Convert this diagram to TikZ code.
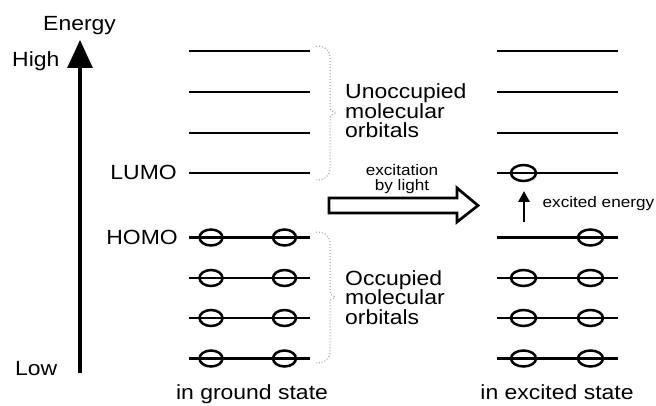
\documentclass[tikz,border=0pt]{standalone}
\usepackage{fontspec}
\setmainfont{Liberation Sans}[FakeStretch=1.12]
\usetikzlibrary{arrows.meta,shapes.geometric}
\begin{document}
\begin{tikzpicture}[x=1pt,y=-1pt,
  lvl/.style={line width=2.8pt},
  elec/.style={draw, ellipse, line width=2.5pt, inner sep=0pt, minimum width=23pt, minimum height=16pt},
  eleca/.style={elec, minimum width=25pt},
  bigtxt/.style={font=\fontsize{20.5}{20}\selectfont, inner sep=0pt},
  smalltxt/.style={font=\fontsize{15.3}{14}\selectfont, inner sep=0pt},
  bracestyle/.style={gray!80, dotted, line width=1pt},
]
\useasboundingbox (0,0) rectangle (656,406);

% energy axis
\coordinate (axb) at (80,373);
\coordinate (axt) at (80,40);
\draw[line width=3.3pt, -{Triangle[length=28pt,width=25pt]}] (axb) -- (axt);
\node[bigtxt, anchor=base west] (energy) at (43,31) {Energy};
\node[bigtxt, anchor=base west] (high) at (12,67) {High};
\node[bigtxt, anchor=base west] (low) at (15,375) {Low};

% levels
\foreach \y [count=\i] in {51,92,133,173} {
  \coordinate (gUL\i) at (189,\y); \coordinate (gUR\i) at (310,\y);
  \draw[lvl] (gUL\i) -- (gUR\i);
  \coordinate (xUL\i) at (497,\y); \coordinate (xUR\i) at (618,\y);
  \draw[lvl] (xUL\i) -- (xUR\i);
}
\foreach \y [count=\i] in {237.5,278,318,358.5} {
  \coordinate (gOL\i) at (189,\y); \coordinate (gOR\i) at (310,\y);
  \draw[lvl] (gOL\i) -- (gOR\i);
  \node[elec] (ga\i) at (211,\y) {};
  \node[elec] (gb\i) at (284.5,\y) {};
  \coordinate (xOL\i) at (497,\y); \coordinate (xOR\i) at (618,\y);
  \draw[lvl] (xOL\i) -- (xOR\i);
  \node[eleca] (xb\i) at (590.5,\y) {};
}
\foreach \y [count=\i] in {278,318,358.5} {
  \node[eleca] (xa\i) at (523.5,\y) {};
}
\node[eleca] (xl) at (523.5,173) {};

\node[bigtxt, anchor=base east] (lumo) at (177,180) {LUMO};
\node[bigtxt, anchor=base east] (homo) at (178,244) {HOMO};

% braces
\draw[bracestyle] (316,46) .. controls (325,46) and (330,50) .. (330,58) -- (330,106)
  .. controls (330,110) .. (335,113) .. controls (330,116) .. (330,120) -- (330,168)
  .. controls (330,176) and (325,180) .. (316,180);
\draw[bracestyle] (316,232) .. controls (325,232) and (330,236) .. (330,244) -- (330,290)
  .. controls (330,294) .. (335,297) .. controls (330,300) .. (330,304) -- (330,351)
  .. controls (330,359) and (325,363) .. (316,363);

\node[bigtxt, anchor=base west] (unocc1) at (345,99) {Unoccupied};
\node[bigtxt, anchor=base west] (unocc2) at (345,118.5) {molecular};
\node[bigtxt, anchor=base west] (unocc3) at (345,138) {orbitals};
\node[bigtxt, anchor=base west] (occ1) at (345,285) {Occupied};
\node[bigtxt, anchor=base west] (occ2) at (345,304.5) {molecular};
\node[bigtxt, anchor=base west] (occ3) at (345,324) {orbitals};

% hollow arrow
\draw[line width=2.7pt, line join=miter] (329,198) -- (457,198) -- (457,188) -- (478,205.5)
  -- (457,222) -- (457,213) -- (329,213) -- cycle;
\node[smalltxt, anchor=base] (exc1) at (402,176) {excitation};
\node[smalltxt, anchor=base] (exc2) at (402,191) {by light};

% excited energy arrow
\coordinate (ea1) at (524,222);
\coordinate (ea2) at (524,191);
\draw[line width=2.8pt, -{Triangle[length=11pt,width=11pt]}] (ea1) -- (ea2);
\node[smalltxt, anchor=base west] (exen) at (542.5,208) {excited energy};

\node[bigtxt, anchor=base] (gs) at (252,399) {in ground state};
\node[bigtxt, anchor=base] (es) at (557,399) {in excited state};
\end{tikzpicture}
\end{document}
